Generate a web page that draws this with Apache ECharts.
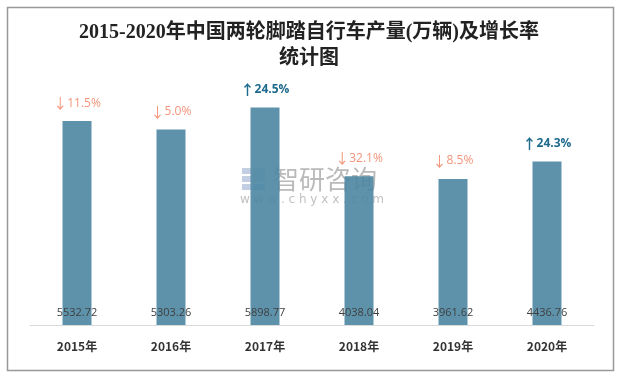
<!DOCTYPE html>
<html><head><meta charset="utf-8">
<script src="https://cdn.jsdelivr.net/npm/echarts@6/dist/echarts.min.js"></script>
<style>html,body{margin:0;padding:0;background:#fff}#c{width:618px;height:372px}</style>
</head><body><div id="c"></div>
<script>
const categories = ['2015年','2016年','2017年','2018年','2019年','2020年'];
const production = [5532.72, 5303.26, 5898.77, 4038.04, 3961.62, 4436.76];
const growth = [-11.5, -5.0, 24.5, -32.1, -8.5, 24.3];

const chart = echarts.init(document.getElementById('c'));
chart.setOption({
  backgroundColor: '#fff',
  animation: false,
  title: {
    text: '2015-2020年中国两轮脚踏自行车产量(万辆)及增长率\n统计图',
    left: 'center', top: 15,
    textStyle: {fontFamily: '"Liberation Serif","Noto Sans CJK SC",serif', fontSize: 20, fontWeight: 'bold', color: '#222', lineHeight: 26}
  },
  graphic: [
    {type: 'rect', left: 5, top: 5, shape: {width: 606, height: 363}, style: {fill: 'none', stroke: '#999', lineWidth: 1.5}, z: 100},
    {type: 'group', left: 240, top: 166, z: 50, children: [
      {type: 'rect', shape: {x: 0, y: 1, width: 9, height: 6}, style: {fill: 'rgba(170,185,215,0.7)'}},
      {type: 'rect', shape: {x: 0, y: 9, width: 9, height: 6}, style: {fill: 'rgba(170,185,215,0.7)'}},
      {type: 'rect', shape: {x: 0, y: 17, width: 9, height: 6}, style: {fill: 'rgba(170,185,215,0.7)'}},
      {type: 'rect', shape: {x: 11, y: 1, width: 12, height: 14}, style: {fill: 'rgba(190,205,230,0.7)'}},
      {type: 'rect', shape: {x: 11, y: 17, width: 12, height: 6}, style: {fill: 'rgba(150,200,230,0.7)'}},
      {type: 'text', style: {x: 31, y: -1, text: '智研咨询', fill: 'rgba(130,130,130,0.55)', font: '26px "Noto Sans CJK SC"'}},
      {type: 'text', style: {x: -2, y: 27, text: 'w w w . c h y x x . c o m', fill: 'rgba(140,140,140,0.55)', font: '12px "DejaVu Sans"'}}
    ]}
  ],
  grid: {left: 30, right: 24, top: 67, bottom: 47},
  xAxis: {
    type: 'category', data: categories,
    axisLine: {lineStyle: {color: '#d9d9d9', width: 1}},
    axisTick: {show: false},
    axisLabel: {color: '#333', fontSize: 12, fontWeight: 'bold', margin: 15, fontFamily: '"Noto Sans CJK SC", sans-serif'}
  },
  yAxis: {type: 'value', min: 0, max: 7000, show: false, splitLine: {show: false}},
  series: [
    {
      type: 'bar', data: production, barWidth: 29, z: 1,
      itemStyle: {color: 'rgba(75,134,161,0.9)'},
      label: {show: true, position: 'insideBottom', distance: 7, color: '#404040', fontSize: 11, fontFamily: '"Open Sans","DejaVu Sans",sans-serif',
        formatter: p => p.value.toFixed(2)}
    },
    {
      type: 'bar', data: production, barWidth: 29, barGap: '-100%', z: 2, silent: true,
      itemStyle: {color: 'rgba(0,0,0,0)'},
      label: {show: true, position: 'top', distance: 11, fontSize: 12,
        formatter: p => { const g = growth[p.dataIndex]; return g < 0 ? '{dna|↓}{dn|' + Math.abs(g).toFixed(1) + '%}' : '{upa|↑}{up|' + g.toFixed(1) + '%}'; },
        rich: {
          dna: {color: '#F4957A', fontSize: 14, fontFamily: '"Noto Sans CJK SC"'},
          upa: {color: '#1E6A8D', fontSize: 14, fontWeight: 'bold', fontFamily: '"Noto Sans CJK SC"'},
          dn: {color: '#F4957A', fontSize: 12, fontFamily: '"Open Sans","DejaVu Sans",sans-serif'},
          up: {color: '#1E6A8D', fontSize: 12, fontWeight: 'bold', fontFamily: '"Open Sans","DejaVu Sans",sans-serif'}
        }}
    }
  ]
});
</script></body></html>
